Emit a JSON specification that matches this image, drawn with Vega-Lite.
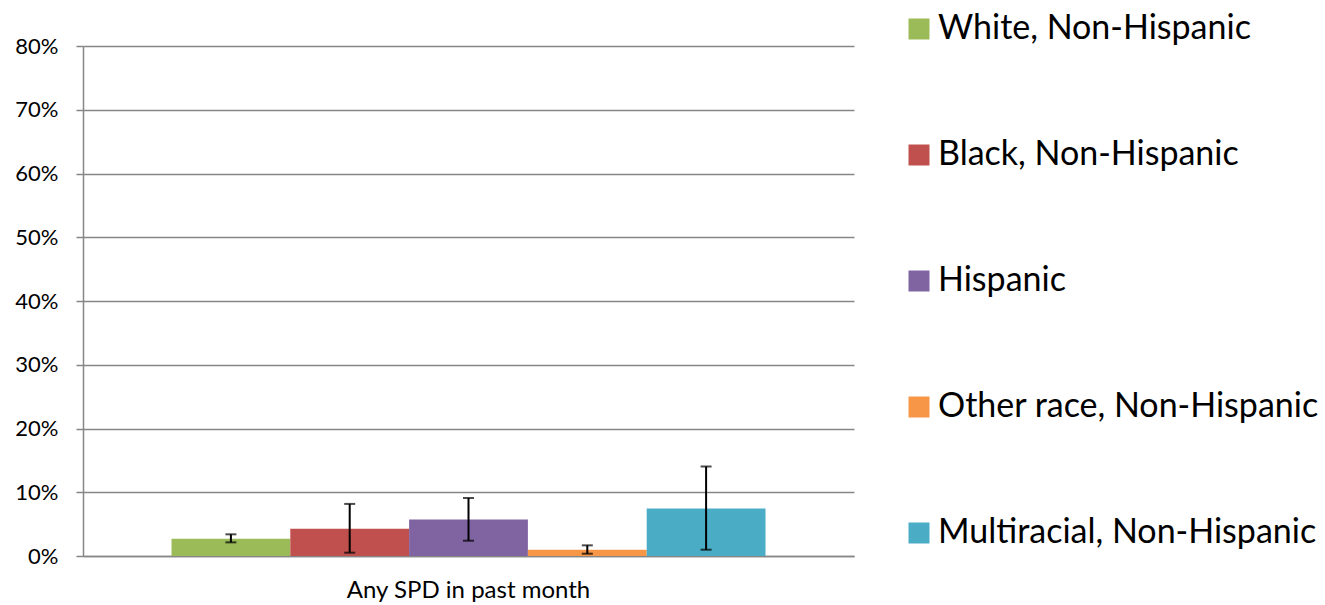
{
  "$schema": "https://vega.github.io/schema/vega-lite/v6.json",
  "autosize": {"type": "none"},
  "padding": {"left": 83, "top": 46, "right": 471, "bottom": 49},
  "width": 771,
  "height": 510,
  "background": "white",
  "config": {
    "font": "Lato",
    "view": {"stroke": null},
    "axis": {"labelFont": "Lato", "labelColor": "#000000"},
    "legend": {"labelFont": "Lato"}
  },
  "data": {
    "values": [
      {"group": "Any SPD in past month", "race": "White, Non-Hispanic", "value": 0.0272, "lo": 0.0214, "hi": 0.034},
      {"group": "Any SPD in past month", "race": "Black, Non-Hispanic", "value": 0.0429, "lo": 0.0052, "hi": 0.0817},
      {"group": "Any SPD in past month", "race": "Hispanic", "value": 0.0571, "lo": 0.024, "hi": 0.091},
      {"group": "Any SPD in past month", "race": "Other race, Non-Hispanic", "value": 0.0099, "lo": 0.0036, "hi": 0.0167},
      {"group": "Any SPD in past month", "race": "Multiracial, Non-Hispanic", "value": 0.0744, "lo": 0.0099, "hi": 0.1404}
    ]
  },
  "encoding": {
    "x": {
      "field": "group", "type": "nominal", "title": null,
      "scale": {"paddingInner": 0, "paddingOuter": 0.149},
      "axis": {"labelAngle": 0, "labelFontSize": 24, "labelLimit": 600, "labelPadding": 22, "ticks": false, "domain": true, "domainColor": "#868686", "domainWidth": 1.5}
    },
    "xOffset": {
      "field": "race", "type": "nominal",
      "sort": ["White, Non-Hispanic", "Black, Non-Hispanic", "Hispanic", "Other race, Non-Hispanic", "Multiracial, Non-Hispanic"],
      "scale": {"paddingInner": 0, "paddingOuter": 0}
    }
  },
  "layer": [
    {
      "mark": {"type": "bar"},
      "encoding": {
        "y": {
          "field": "value", "type": "quantitative", "title": null,
          "scale": {"domain": [0, 0.8]},
          "axis": {"format": ".0%", "values": [0, 0.1, 0.2, 0.3, 0.4, 0.5, 0.6, 0.7, 0.8], "labelOverlap": false, "labelFlush": false, "labelFontSize": 22, "labelPadding": 18, "tickSize": 7, "tickColor": "#868686", "tickWidth": 1.5, "domainColor": "#868686", "domainWidth": 1.5, "grid": true, "gridColor": "#868686", "gridWidth": 1.5}
        },
        "color": {
          "field": "race", "type": "nominal", "title": null,
          "sort": ["White, Non-Hispanic", "Black, Non-Hispanic", "Hispanic", "Other race, Non-Hispanic", "Multiracial, Non-Hispanic"],
          "scale": {
            "domain": ["White, Non-Hispanic", "Black, Non-Hispanic", "Hispanic", "Other race, Non-Hispanic", "Multiracial, Non-Hispanic"],
            "range": ["#9BBB59", "#C0504D", "#8064A2", "#F79646", "#4BACC6"]
          },
          "legend": {
            "orient": "none", "legendX": 819, "legendY": -34,
            "symbolType": "square", "symbolSize": 441, "symbolStrokeWidth": 0,
            "labelFontSize": 34, "labelOffset": 2, "rowPadding": 92, "padding": 0, "labelLimit": 500
          }
        }
      }
    },
    {
      "mark": {"type": "rule", "color": "black", "strokeWidth": 2},
      "encoding": {
        "y": {"field": "lo", "type": "quantitative"},
        "y2": {"field": "hi"}
      }
    },
    {
      "mark": {"type": "tick", "color": "black", "size": 11, "thickness": 2},
      "encoding": {"y": {"field": "lo", "type": "quantitative"}}
    },
    {
      "mark": {"type": "tick", "color": "black", "size": 11, "thickness": 2},
      "encoding": {"y": {"field": "hi", "type": "quantitative"}}
    }
  ]
}
